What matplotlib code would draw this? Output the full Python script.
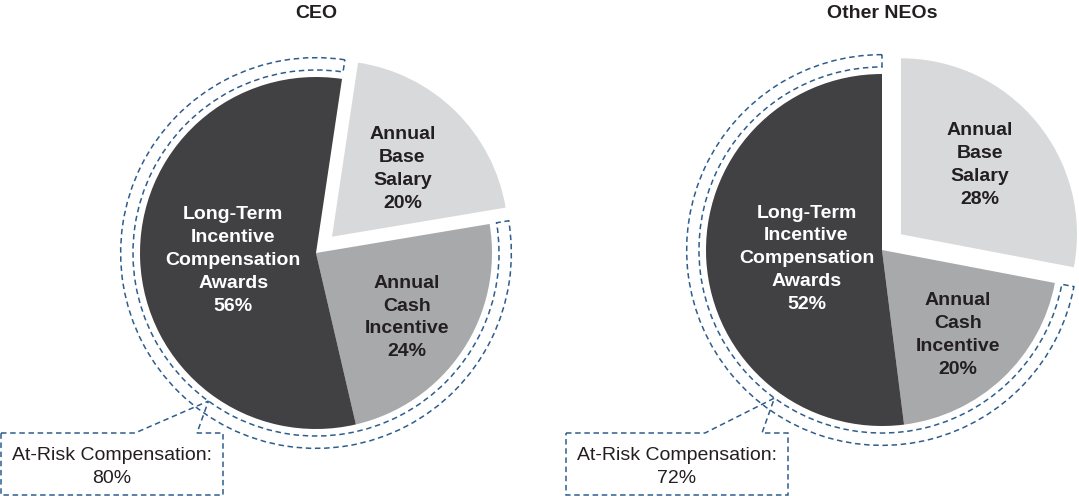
import matplotlib
matplotlib.use('Agg')
import matplotlib.pyplot as plt
import matplotlib.patches as mpatches
import numpy as np

plt.rcParams['font.family'] = ['Liberation Sans', 'DejaVu Sans']

# data
titles = ['CEO', 'Other NEOs']
categories = ['Annual\nBase\nSalary', 'Annual\nCash\nIncentive', 'Long-Term\nIncentive\nCompensation\nAwards']
ceo_pct = [20, 24, 56]
neo_pct = [28, 20, 52]
at_risk_pct = [80, 72]

# style
W, H = 1079, 496
colors = ['#d8d9da', '#a8a9ab', '#414143']
text_colors = ['#231f20', '#231f20', '#ffffff']
blue = '#2f5d8c'
dash = (0, (3.6, 2.4))

# layout (pixel units, y from top)
R = 176
r_in, r_out = R * 1.04, R * 1.11
panels = [
    dict(center=(316, 253), start=81.5, explode=0.13, label_r=[0.70, 0.62, 0.47],
         label_dy=[-4, -4, -4], box=(1, 223, 433, 495), ptr=(135, 197)),
    dict(center=(882, 250), start=90, explode=0.14, label_r=[0.72, 0.63, 0.43],
         label_dy=[4, -4, -4], box=(566, 788, 433, 495), ptr=(705, 762)),
]

fig = plt.figure(figsize=(W / 100, H / 100), dpi=100)
ax = fig.add_axes([0, 0, 1, 1])

for p, vals, title, risk in zip(panels, [ceo_pct, neo_pct], titles, at_risk_pct):
    cx, cy = p['center'][0], H - p['center'][1]
    # pie explode is in data units, so scale by the radius
    wedges, _ = ax.pie(vals, colors=colors, startangle=p['start'], counterclock=False,
                       explode=[p['explode'] * R, 0, 0], radius=R, center=(cx, cy),
                       frame=True, wedgeprops=dict(linewidth=0))
    for w, lab, v, tc, d, dy in zip(wedges, categories, vals, text_colors,
                                    p['label_r'], p['label_dy']):
        mid = np.deg2rad((w.theta1 + w.theta2) / 2)
        ax.text(cx + d * R * np.cos(mid), cy + d * R * np.sin(mid) + dy, f'{lab}\n{v}%',
                ha='center', va='center', color=tc, fontsize=14, fontweight='bold',
                linespacing=1.45)
    ax.text(cx, H - 14, title, ha='center', va='center', fontsize=14, fontweight='bold',
            color='#231f20')

    # dashed band around the at-risk slices
    t1 = p['start'] - 360
    t2 = p['start'] - 360 * vals[0] / 100
    ax.add_patch(mpatches.Wedge((cx, cy), r_out, t1, t2, width=r_out - r_in, fill=False,
                                edgecolor=blue, linewidth=1.1, linestyle=dash))

    # callout box
    x0, x1, yt, yb = p['box']
    a = np.deg2rad(234)
    apex = (cx + r_in * np.cos(a), cy + r_in * np.sin(a))
    pts = [(x0, H - yt), (p['ptr'][0], H - yt), apex, (p['ptr'][1], H - yt),
           (x1, H - yt), (x1, H - yb), (x0, H - yb)]
    ax.add_patch(mpatches.Polygon(pts, closed=True, fill=False, edgecolor=blue,
                                  linewidth=1.1, linestyle=dash))
    ax.text((x0 + x1) / 2, H - 467, f'At-Risk Compensation:\n{risk}%', ha='center',
            va='center', fontsize=14, color='#231f20', linespacing=1.42)

ax.set_xlim(0, W)
ax.set_ylim(0, H)
ax.set_aspect('equal')
ax.axis('off')
fig.savefig('out.png', dpi=100)
